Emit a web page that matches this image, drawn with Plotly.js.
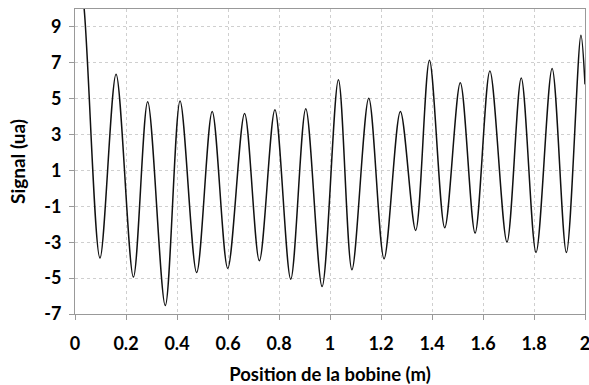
<!DOCTYPE html>
<html><head><meta charset="utf-8">
<script src="https://cdn.plot.ly/plotly-3.0.1.min.js"></script>
<style>html,body{margin:0;padding:0;background:#fff;}#chart{width:589px;height:385px;}</style>
</head><body><div id="chart"></div>
<script>
// extrema (position in m, signal in ua)
const position = [0.0, 0.036, 0.098, 0.161, 0.229, 0.285, 0.354, 0.412, 0.477, 0.538, 0.599, 0.665, 0.723, 0.784, 0.846, 0.905, 0.969, 1.033, 1.086, 1.152, 1.212, 1.276, 1.336, 1.390, 1.450, 1.511, 1.569, 1.627, 1.694, 1.750, 1.808, 1.871, 1.927, 1.984, 2.0];
const signal   = [14.5, 10.0, -3.88, 6.36, -4.94, 4.83, -6.53, 4.87, -4.69, 4.29, -4.46, 4.18, -4.03, 4.38, -5.06, 4.44, -5.47, 6.06, -4.54, 5.02, -3.92, 4.29, -2.34, 7.14, -2.19, 5.89, -2.49, 6.54, -2.99, 6.15, -3.57, 6.69, -3.57, 8.54, 5.8];
const xTickVals = [0, 0.2, 0.4, 0.6, 0.8, 1, 1.2, 1.4, 1.6, 1.8, 2];
const xTickText = ["0", "0.2", "0.4", "0.6", "0.8", "1", "1.2", "1.4", "1.6", "1.8", "2"];
const yTickVals = [-7, -5, -3, -1, 1, 3, 5, 7, 9];
const yTickText = ["-7", "-5", "-3", "-1", "1", "3", "5", "7", "9"];

const fontFam = "Lato, 'DejaVu Sans', sans-serif";
Plotly.newPlot('chart', [{
  x: position, y: signal, type: 'scatter', mode: 'lines',
  line: {color: '#111', width: 1.5, shape: 'spline', smoothing: 0.9}
}], {
  width: 589, height: 385,
  margin: {l: 75, r: 4, t: 9, b: 71},
  paper_bgcolor: '#fff', plot_bgcolor: '#fff',
  showlegend: false,
  font: {family: fontFam, color: '#000', size: 15, weight: 'bold'},
  xaxis: {
    range: [0, 2], tickvals: xTickVals, ticktext: xTickText,
    showgrid: true, gridcolor: '#cfcfcf', griddash: 'dot', gridwidth: 1,
    showline: true, linecolor: '#999', linewidth: 1, mirror: true,
    ticks: 'outside', ticklen: 5, tickcolor: '#999', zeroline: false,
    ticklabeloverflow: 'allow', ticklabelstandoff: 8,
    tickfont: {family: fontFam, size: 18, weight: 'bold', color: '#000'},
    title: {text: 'Position de la bobine (m)', font: {family: fontFam, size: 18.5, weight: 'bold', color: '#000'}, standoff: 16}
  },
  yaxis: {
    range: [-7, 10], tickvals: yTickVals, ticktext: yTickText,
    showgrid: true, gridcolor: '#cfcfcf', griddash: 'dot', gridwidth: 1,
    showline: true, linecolor: '#999', linewidth: 1, mirror: true,
    ticks: 'outside', ticklen: 5, tickcolor: '#999', zeroline: false,
    ticklabelstandoff: 4,
    tickfont: {family: fontFam, size: 18, weight: 'bold', color: '#000'},
    title: {text: 'Signal (ua)', font: {family: fontFam, size: 19, weight: 'bold', color: '#000'}, standoff: 13}
  }
}, {staticPlot: true, displayModeBar: false});
</script></body></html>
